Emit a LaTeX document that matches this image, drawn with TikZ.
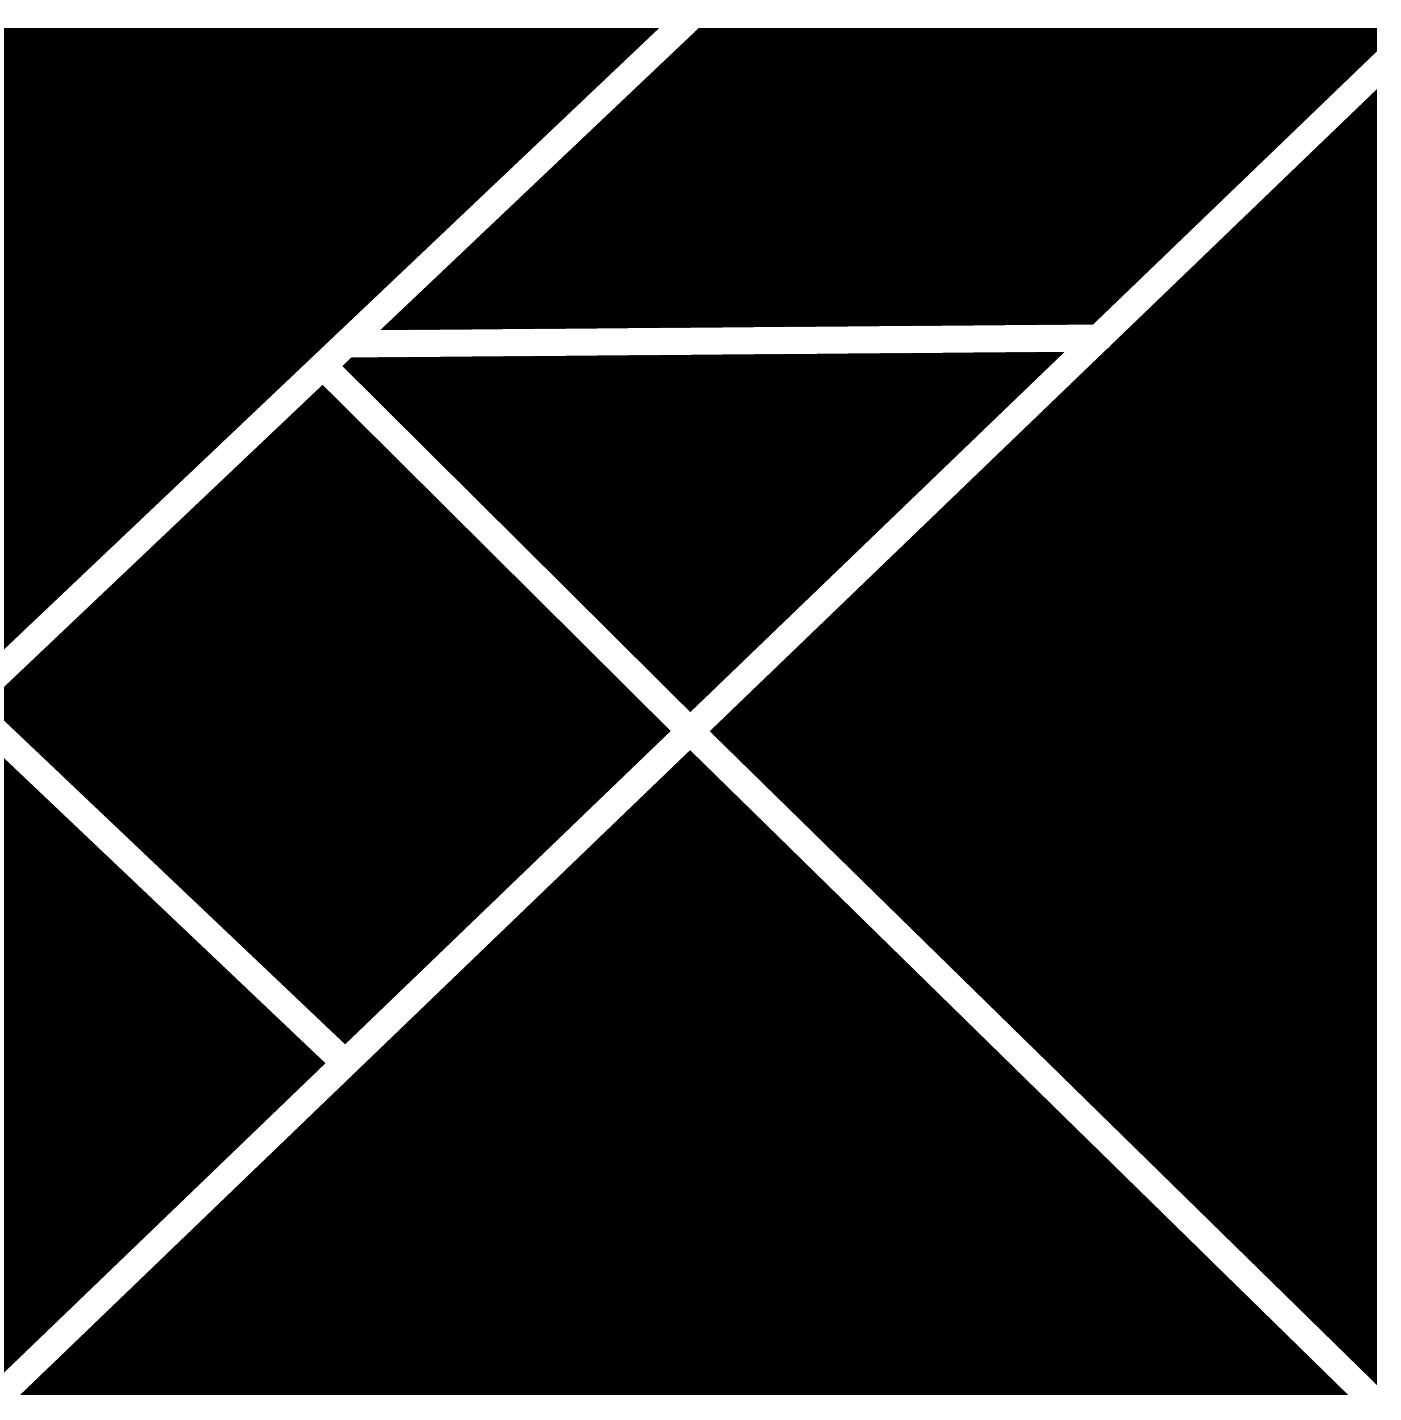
\documentclass[tikz,border=0pt]{standalone}
\begin{document}
\begin{tikzpicture}[x=1pt,y=-1pt,
  cut/.style={draw=white,line width=27pt,line cap=butt,line join=round},
  inner cut/.style={cut,line cap=round}]
\useasboundingbox (0,0) rectangle (1400,1420);
% corners of the square
\coordinate (TL) at (4,28);
\coordinate (BR) at (1377,1395);
\fill[black] (TL) rectangle (BR);
% key points
\coordinate (topA) at (698,10);
\coordinate (leftA) at (-19,690);
\coordinate (hL) at (346,344);
\coordinate (hR) at (1099,338);
\coordinate (trA) at (1400,48);
\coordinate (blA) at (-10,1405);
\coordinate (mid) at (690,731);
\coordinate (j4) at (323,366);
\coordinate (brA) at (1385,1412);
\coordinate (lA) at (-10,726);
\coordinate (jB) at (345,1063);
\begin{scope}
\clip (TL) rectangle (BR);
\draw[inner cut] (hL) -- (hR);
\draw[inner cut] (j4) -- (mid) -- (brA);
\draw[inner cut] (lA) -- (jB);
\draw[cut] (topA) -- (leftA);
\draw[cut] (trA) -- (blA);
\end{scope}
\end{tikzpicture}
\end{document}
